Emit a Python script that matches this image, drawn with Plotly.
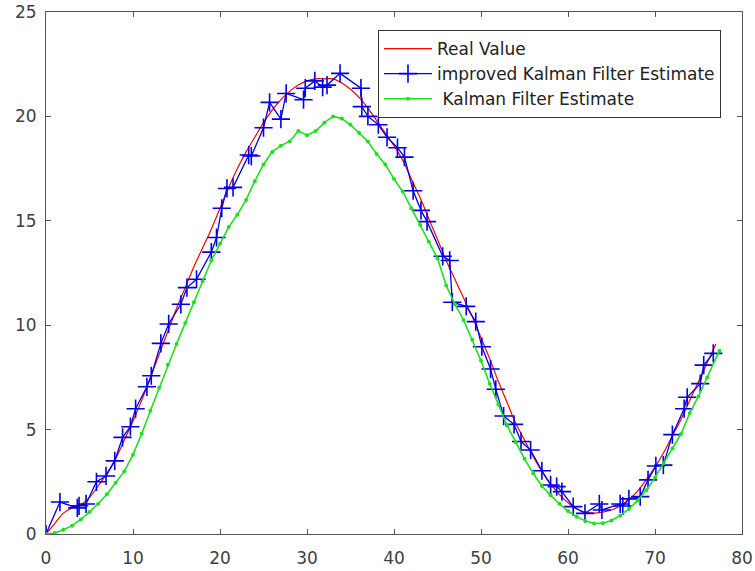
import plotly.graph_objects as go

# Real value (smooth trajectory)
real_x = list(range(0, 78))
real_y = [0.0, 0.5, 1.0, 1.25, 1.4, 1.75, 2.3, 2.9, 3.6, 4.5,
          5.4, 6.4, 7.5, 8.6, 9.7, 10.8, 11.8, 12.8, 13.7, 14.6,
          15.6, 16.6, 17.5, 18.3, 19.0, 19.7, 20.3, 20.8, 21.2, 21.5,
          21.7, 21.8, 21.8, 21.8, 21.6, 21.3, 20.9, 20.4, 19.8, 19.2,
          18.6, 17.9, 17.0, 16.1, 15.1, 14.1, 13.1, 12.2, 11.3, 10.4,
          9.4, 8.4, 7.3, 6.3, 5.3, 4.5, 3.7, 3.0, 2.4, 1.9,
          1.5, 1.2, 1.05, 1.0, 1.05, 1.15, 1.35, 1.65, 2.05, 2.6,
          3.2, 3.9, 4.7, 5.5, 6.4, 7.3, 8.2, 9.1]

# Improved Kalman Filter estimate
imp_x = [0, 1.6, 3.6, 3.8, 4.6, 5.8, 6.9, 7.9, 8.8, 9.7,
         10.3, 11.6, 12.1, 13.2, 14.1, 15.5, 16.2, 17.3, 19.0, 19.6,
         20.2, 20.8, 21.5, 23.3, 23.6, 25.0, 25.7, 27.0, 27.6, 29.6,
         29.8, 30.9, 31.8, 32.3, 33.8, 36.2, 36.3, 37.0, 38.2, 39.2,
         40.4, 41.2, 42.2, 43.1, 43.8, 45.6, 46.4, 46.7, 48.3, 49.4,
         50.1, 51.1, 51.7, 52.6, 53.8, 54.6, 55.7, 57.0, 58.0, 58.7,
         59.3, 60.6, 61.95, 63.6, 63.9, 66.0, 66.3, 67.0, 68.3, 69.2,
         70.1, 70.96, 72.0, 73.35, 73.7, 75.2, 75.6, 76.7]
imp_y = [0, 1.53, 1.25, 1.35, 1.44, 2.5, 2.78, 3.5, 4.63, 5.14,
         6.0, 7.05, 7.58, 9.13, 10.06, 11.0, 11.8, 12.2, 13.5, 14.2,
         15.6, 16.55, 16.6, 18.15, 18.1, 19.46, 20.67, 19.87, 21.1, 20.8,
         21.35, 21.7, 21.4, 21.5, 22.06, 21.35, 20.47, 20.0, 19.6, 19.0,
         18.5, 18.05, 16.44, 15.5, 14.96, 13.3, 13.1, 11.1, 10.9, 10.17,
         8.97, 7.9, 6.93, 5.65, 5.25, 4.43, 4.02, 3.03, 2.35, 2.27,
         2.03, 1.31, 0.99, 1.44, 1.15, 1.44, 1.34, 1.68, 1.79, 2.59,
         3.26, 3.3, 4.76, 6.0, 6.55, 7.2, 8.09, 8.65]

# Kalman Filter estimate
kf_x = list(range(0, 77)) + [77.4]
kf_y = [0.0, 0.05, 0.2, 0.4, 0.7, 1.05, 1.45, 1.9, 2.45, 3.0,
        3.8, 4.8, 5.9, 7.0, 8.1, 9.1, 10.1, 11.1, 12.1, 13.1,
        13.9, 14.7, 15.3, 16.0, 16.9, 17.7, 18.3, 18.6, 18.8, 19.3,
        19.1, 19.3, 19.7, 20.0, 19.9, 19.6, 19.2, 18.8, 18.2, 17.7,
        17.0, 16.4, 15.6, 14.8, 14.0, 13.2, 11.9, 11.0, 10.25, 9.3,
        8.3, 7.2, 6.2, 5.2, 4.4, 3.6, 2.9, 2.3, 1.85, 1.45,
        1.1, 0.83, 0.62, 0.5, 0.52, 0.65, 0.88, 1.2, 1.6, 2.1,
        2.7, 3.4, 4.1, 4.8, 5.8, 6.6, 7.5, 8.78]

x_ticks = [0, 10, 20, 30, 40, 50, 60, 70, 80]
y_ticks = [0, 5, 10, 15, 20, 25]

fig = go.Figure()
fig.add_trace(go.Scatter(x=real_x, y=real_y, mode="lines", name="Real Value",
                         line=dict(color="#ff0000", width=1.2, shape="spline")))
fig.add_trace(go.Scatter(x=imp_x, y=imp_y, mode="lines+markers",
                         name="improved Kalman Filter Estimate",
                         line=dict(color="#0000e6", width=1.3),
                         marker=dict(symbol="cross-thin", size=13,
                                     line=dict(color="#0000e6", width=1.6))))
fig.add_trace(go.Scatter(x=kf_x, y=kf_y, mode="lines+markers",
                         name=" Kalman Filter Estimate",
                         line=dict(color="#1fe01f", width=1.6),
                         marker=dict(symbol="circle", size=4, color="#1fe01f")))

axis_common = dict(showgrid=False, zeroline=False, showline=True, mirror="allticks",
                   linecolor="#555555", linewidth=1, ticks="inside", ticklen=5,
                   tickcolor="#555555", automargin=False, ticklabeloverflow="allow",
                   tickfont=dict(family="DejaVu Sans", size=17, color="#404040"))

fig.update_xaxes(range=[0, 80], tickvals=x_ticks, ticklabelstandoff=9, **axis_common)
fig.update_yaxes(range=[0, 25], tickvals=y_ticks, ticklabelstandoff=5, **axis_common)

fig.update_layout(
    width=755, height=571,
    margin=dict(l=46, r=13, t=12, b=37),
    paper_bgcolor="white", plot_bgcolor="white",
    showlegend=True,
    hovermode=False,
    legend=dict(x=0.477, y=0.9655, xanchor="left", yanchor="top",
                bgcolor="white", bordercolor="#333333", borderwidth=1,
                font=dict(family="DejaVu Sans", size=17, color="#222222"),
                itemwidth=48, tracegroupgap=0),
)

# remove the browser's default body margin so the figure fills the window exactly
fig.write_html("out.html", config={"displayModeBar": False},
               post_script="document.body.style.margin='0';")
